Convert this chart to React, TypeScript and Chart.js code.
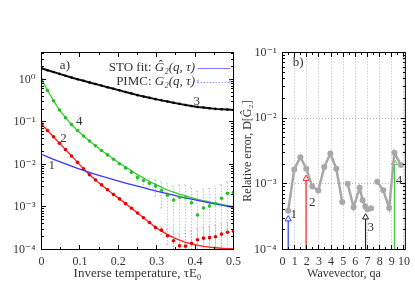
import React, { useEffect, useRef } from 'react';
import { Chart, registerables } from 'chart.js';

Chart.register(...registerables);

const FONT = '"Liberation Serif", "DejaVu Serif", serif';
const TEXT = '#333333';

// ---------- panel a) : correlation function vs inverse temperature ----------
const TAU = [0, 0.0156, 0.0313, 0.0469, 0.0625, 0.0781, 0.0938, 0.1094, 0.125, 0.1406, 0.1563, 0.1719, 0.1875, 0.2031, 0.2188, 0.2344, 0.25, 0.2656, 0.2813, 0.2969, 0.3125, 0.3281, 0.3438, 0.3594, 0.375, 0.3906, 0.4063, 0.4219, 0.4375, 0.4531, 0.4688, 0.4844, 0.5];

// curve 3 (black): PIMC points and STO fit coincide
const CURVE3 = [1.83, 1.65, 1.49, 1.35, 1.22, 1.11, 1.01, 0.928, 0.851, 0.781, 0.716, 0.657, 0.603, 0.553, 0.507, 0.465, 0.427, 0.397, 0.369, 0.344, 0.322, 0.302, 0.283, 0.266, 0.251, 0.237, 0.226, 0.218, 0.21, 0.203, 0.199, 0.195, 0.191];

// curve 4 (green)
const CURVE4_FIT = [1.0, 0.55, 0.316, 0.191, 0.126, 0.0871, 0.0631, 0.0468, 0.0355, 0.0275, 0.0214, 0.017, 0.0135, 0.0107, 0.0087, 0.0071, 0.00575, 0.00479, 0.00398, 0.00339, 0.00288, 0.00251, 0.00224, 0.002, 0.00182, 0.00166, 0.00151, 0.00141, 0.00132, 0.00123, 0.00115, 0.00108, 0.00102];
const CURVE4_PIMC = [1.0, 0.55, 0.316, 0.191, 0.126, 0.0871, 0.0631, 0.0468, 0.0355, 0.0275, 0.0213, 0.0168, 0.0133, 0.0104, 0.0083, 0.0066, 0.0049, 0.0042, 0.0036, 0.0031, 0.00245, 0.0019, 0.00145, 0.0017, 0.00165, 0.00125, 0.00065, 0.00095, 0.00105, 0.0012, 0.0016, 0.0021, 0.0022];
const CURVE4_ERR = [0, 0, 0, 0, 0, 0, 0, 0, 0, 0, 0.0001, 0.00015, 0.0002, 0.0003, 0.0004, 0.0005, 0.0007, 0.0009, 0.0011, 0.0013, 0.0015, 0.0016, 0.0016, 0.0016, 0.0017, 0.0017, 0.0017, 0.0017, 0.0017, 0.0018, 0.0018, 0.0018, 0.0018];

// curve 2 (red)
const CURVE2_FIT = [0.0887, 0.0631, 0.0447, 0.0316, 0.0224, 0.0158, 0.0112, 0.00794, 0.00575, 0.00432, 0.00331, 0.00254, 0.00197, 0.00155, 0.0012, 0.00093, 0.00072, 0.00056, 0.00043, 0.00033, 0.00027, 0.000224, 0.00019, 0.000166, 0.000148, 0.000135, 0.000126, 0.000119, 0.0001135, 0.00011, 0.000107, 0.000105, 0.0001047];
const CURVE2_PIMC = [0.0887, 0.0631, 0.0447, 0.0316, 0.0224, 0.0158, 0.0112, 0.00794, 0.00575, 0.00432, 0.00331, 0.00254, 0.00197, 0.00155, 0.0012, 0.00093, 0.00072, 0.00056, 0.00043, 0.00033, 0.000285, 0.00021, 0.00016, 0.000122, 0.00012, 0.00014, 0.00017, 0.000185, 0.00019, 0.0002, 0.00023, 0.000255, 0.00027];
const CURVE2_ERR = [0, 0, 0, 0, 0, 0, 0, 0, 0, 0, 0, 0, 0, 0, 0, 0, 0.00001, 0.00002, 0.00003, 0.00004, 0.00006, 0.00008, 0.0001, 0.00011, 0.00012, 0.00013, 0.00014, 0.00015, 0.00016, 0.00017, 0.00018, 0.00018, 0.00019];

// curve 1 (blue): only the STO fit is visible
const CURVE1_FIT = [0.01738, 0.01514, 0.01324, 0.01164, 0.01028, 0.00912, 0.00813, 0.00724, 0.0065, 0.00586, 0.0053, 0.00481, 0.00438, 0.004, 0.00366, 0.00337, 0.0031, 0.00284, 0.00261, 0.0024, 0.00221, 0.00205, 0.0019, 0.00176, 0.00164, 0.00153, 0.00143, 0.00134, 0.00125, 0.00117, 0.0011, 0.00104, 0.00098];

const X_TICKS_A = [0, 0.05, 0.1, 0.15, 0.2, 0.25, 0.3, 0.35, 0.4, 0.45, 0.5];
const X_LABELS_A = ['0', '', '0.1', '', '0.2', '', '0.3', '', '0.4', '', '0.5'];
const Y_MAJOR = [1e-4, 1e-3, 1e-2, 1e-1, 1];
const Y_MAJOR_LABELS = ['10⁻⁴', '10⁻³', '10⁻²', '10⁻¹', '10⁰'];
const X_TITLE_A = 'Inverse temperature, τE₀';

const A_LABEL_TEXT = ['1', '2', '3', '4', 'a)'];
const A_LABEL_TAU = [0.027, 0.057, 0.404, 0.098, 0.061];
const A_LABEL_VAL = [0.0092, 0.041, 0.298, 0.1, 2.17];

const LEGEND_PREFIX = ['STO fit: ', 'PIMC: '];
const LEGEND_MATH = ['Ĝ₂(q, τ)', 'G₂(q, τ)'];

// ---------- panel b) : relative error vs wavevector ----------
const QA = [0.47, 0.97, 1.47, 1.96, 2.45, 2.95, 3.44, 3.94, 4.43, 4.92, 5.15, 5.37, 5.86, 6.35, 6.6, 6.82, 7.0, 7.3, 7.55, 7.8, 8.3, 8.78, 9.22, 9.76];
const DREL = [0.00039, 0.00166, 0.00255, 0.0017, 0.00091, 0.00079, 0.0018, 0.0029, 0.0017, 0.00053, null, 0.001, 0.00044, 0.00087, 0.00056, 0.00045, 0.00041, 0.000425, null, 0.00108, 0.0008, 0.00043, 0.00297, 0.00193];

const ARROW_Q = [0.47, 1.94, 6.84, 9.22];
const ARROW_TOP = [0.00029, 0.0012, 0.00031, 0.00208];
const ARROW_COLORS = ['#2a3cff', '#ff2020', '#222222', '#3ccc3c'];

const QA_TICKS = [0, 0.5, 1, 1.5, 2, 2.5, 3, 3.5, 4, 4.5, 5, 5.5, 6, 6.5, 7, 7.5, 8, 8.5, 9, 9.5, 10];
const QA_LABELS = ['0', '', '1', '', '2', '', '3', '', '4', '', '5', '', '6', '', '7', '', '8', '', '9', '', '10'];
const X_TITLE_B = 'Wavevector, qa';
const Y_TITLE_B = 'Relative error, D[Ĝ₂]';

const B_LABEL_TEXT = ['1', '2', '3', '4', 'b)'];
const B_LABEL_Q = [0.92, 2.46, 7.26, 9.59, 1.28];
const B_LABEL_VAL = [0.000343, 0.00051, 0.000212, 0.00113, 0.07];

// ---------- helpers ----------
const pts = (xs: number[], ys: (number | null)[]) => xs.map((x, i) => ({ x, y: ys[i] }));

function logTicks(minExp: number, max: number) {
  const out: { value: number }[] = [];
  for (let e = minExp; e <= 1; e++) {
    for (let m = 1; m <= 9; m++) {
      const v = m * Math.pow(10, e);
      if (v <= max * 1.0001) out.push({ value: v });
    }
  }
  return out;
}
function majorLabel(v: number) {
  const idx = Y_MAJOR.findIndex((m) => Math.abs(Math.log10(v) - Math.log10(m)) < 1e-6);
  return idx >= 0 ? Y_MAJOR_LABELS[idx] : '';
}
const isMajorLog = (v: number) => Math.abs(Math.log10(v) - Math.round(Math.log10(v))) < 1e-6;

const frameTicksPlugin = {
  id: 'frameTicks',
  afterDatasetsDraw(chart: any) {
    const { ctx, chartArea: a } = chart;
    const xs = chart.scales.x;
    const ys = chart.scales.y;
    ctx.save();
    ctx.strokeStyle = '#000';
    ctx.lineWidth = 1;
    ctx.setLineDash([]);
    ctx.beginPath();
    xs.ticks.forEach((t: any) => {
      const p = xs.getPixelForValue(t.value);
      if (p < a.left + 0.5 || p > a.right - 0.5) return;
      const px = Math.floor(p) + 0.5;
      const len = t.label ? 4.5 : 2.5;
      ctx.moveTo(px, a.bottom);
      ctx.lineTo(px, a.bottom - len);
      ctx.moveTo(px, a.top);
      ctx.lineTo(px, a.top + len);
    });
    ys.ticks.forEach((t: any) => {
      const p = ys.getPixelForValue(t.value);
      if (p < a.top + 0.5 || p > a.bottom - 0.5) return;
      const py = Math.floor(p) + 0.5;
      const len = t.label ? 4.5 : 2.5;
      ctx.moveTo(a.left, py);
      ctx.lineTo(a.left + len, py);
      ctx.moveTo(a.right, py);
      ctx.lineTo(a.right - len, py);
    });
    ctx.stroke();
    ctx.strokeRect(a.left, a.top, a.right - a.left, a.bottom - a.top);
    ctx.restore();
  },
};

const errorBarPlugin = {
  id: 'errorBars',
  beforeDatasetsDraw(chart: any) {
    const { ctx, chartArea: a } = chart;
    const xs = chart.scales.x;
    const ys = chart.scales.y;
    ctx.save();
    ctx.beginPath();
    ctx.rect(a.left, a.top, a.right - a.left, a.bottom - a.top);
    ctx.clip();
    chart.data.datasets.forEach((ds: any) => {
      if (!ds.errors) return;
      ctx.strokeStyle = ds.errorColor;
      ctx.lineWidth = 1;
      ctx.setLineDash([1.5, 1.5]);
      ds.data.forEach((p: any, i: number) => {
        const e = ds.errors[i];
        if (!e) return;
        const x = xs.getPixelForValue(p.x);
        const yHi = ys.getPixelForValue(p.y + e);
        const lo = p.y - e;
        const yLo = lo > 0 ? ys.getPixelForValue(lo) : a.bottom + 3;
        ctx.beginPath();
        ctx.moveTo(x, yLo);
        ctx.lineTo(x, yHi);
        ctx.moveTo(x - 1.5, yHi);
        ctx.lineTo(x + 1.5, yHi);
        ctx.moveTo(x - 1.5, yLo);
        ctx.lineTo(x + 1.5, yLo);
        ctx.stroke();
      });
    });
    ctx.restore();
  },
};

function makeLabelPlugin(texts: string[], xv: number[], yv: number[]) {
  return {
    id: 'panelLabels',
    afterDatasetsDraw(chart: any) {
      const { ctx } = chart;
      ctx.save();
      ctx.font = `13px ${FONT}`;
      ctx.fillStyle = TEXT;
      ctx.textAlign = 'center';
      ctx.textBaseline = 'middle';
      texts.forEach((t, i) => {
        ctx.fillText(t, chart.scales.x.getPixelForValue(xv[i]), chart.scales.y.getPixelForValue(yv[i]));
      });
      ctx.restore();
    },
  };
}

const legendPlugin = {
  id: 'stoLegend',
  afterDatasetsDraw(chart: any) {
    const { ctx, chartArea: a } = chart;
    ctx.save();
    ctx.textBaseline = 'middle';
    ctx.textAlign = 'right';
    ctx.fillStyle = TEXT;
    LEGEND_PREFIX.forEach((pre, i) => {
      const y = a.top + 15.5 + i * 13.5;
      const right = a.right - 38.5;
      ctx.font = `italic 13px ${FONT}`;
      const w = ctx.measureText(LEGEND_MATH[i]).width;
      ctx.fillText(LEGEND_MATH[i], right, y);
      ctx.font = `13px ${FONT}`;
      ctx.fillText(pre, right - w, y);
      const x0 = a.right - 36;
      const x1 = a.right - 3;
      ctx.lineWidth = 1.2;
      ctx.beginPath();
      if (i === 0) {
        ctx.strokeStyle = '#7a7aff';
        ctx.setLineDash([]);
        ctx.moveTo(x0, Math.round(y) + 0.5);
        ctx.lineTo(x1, Math.round(y) + 0.5);
        ctx.stroke();
      } else {
        ctx.strokeStyle = '#9a9aff';
        ctx.setLineDash([1.5, 1.5]);
        ctx.moveTo(x0, Math.round(y) + 0.5);
        ctx.lineTo(x1, Math.round(y) + 0.5);
        ctx.stroke();
        ctx.setLineDash([]);
        ctx.beginPath();
        ctx.moveTo(x0 + 0.5, y - 2);
        ctx.lineTo(x0 + 0.5, y + 2);
        ctx.moveTo(x1 - 0.5, y - 2);
        ctx.lineTo(x1 - 0.5, y + 2);
        ctx.stroke();
      }
    });
    ctx.restore();
  },
};

const tickFont = { family: FONT, size: 12 };
const titleFontA = { family: FONT, size: 13 };

function configA(): any {
  return {
    type: 'line',
    data: {
      datasets: [
        { label: '4 PIMC', data: pts(TAU, CURVE4_PIMC), showLine: false, pointRadius: 1.8, pointBackgroundColor: '#22c022', pointBorderWidth: 0, errors: CURVE4_ERR, errorColor: 'rgba(70,205,70,0.55)' },
        { label: '2 PIMC', data: pts(TAU, CURVE2_PIMC), showLine: false, pointRadius: 1.8, pointBackgroundColor: '#e80000', pointBorderWidth: 0, errors: CURVE2_ERR, errorColor: 'rgba(255,90,90,0.5)' },
        { label: '3', data: pts(TAU, CURVE3), borderColor: '#111111', borderWidth: 2, pointRadius: 1.3, pointBackgroundColor: '#000', pointBorderWidth: 0 },
        { label: '1 fit', data: pts(TAU, CURVE1_FIT), borderColor: '#3838ff', borderWidth: 1.3, pointRadius: 0 },
        { label: '4 fit', data: pts(TAU, CURVE4_FIT), borderColor: '#38c838', borderWidth: 1.3, pointRadius: 0 },
        { label: '2 fit', data: pts(TAU, CURVE2_FIT), borderColor: '#ff2020', borderWidth: 1.3, pointRadius: 0 },
      ],
    },
    options: {
      responsive: false,
      animation: false,
      events: [],
      layout: { padding: { left: 0, right: 181.5, top: 52.5, bottom: 9.5 } },
      plugins: { legend: { display: false }, tooltip: { enabled: false } },
      scales: {
        x: {
          type: 'linear',
          min: 0,
          max: 0.5,
          afterBuildTicks: (s: any) => { s.ticks = X_TICKS_A.map((v) => ({ value: v })); },
          afterFit: (s: any) => { s.height = 32; },
          grid: { display: false, drawTicks: false },
          border: { display: false },
          ticks: { autoSkip: false, maxRotation: 0, padding: 5, color: TEXT, font: tickFont, callback: (_v: any, i: number) => X_LABELS_A[i] },
          title: { display: true, text: X_TITLE_A, color: TEXT, font: titleFontA, padding: { top: 0, bottom: 0 } },
        },
        y: {
          type: 'logarithmic',
          min: 1e-4,
          max: 4.3,
          afterBuildTicks: (s: any) => { s.ticks = logTicks(-4, 4.3); },
          afterFit: (s: any) => { s.width = 41.5; },
          grid: { display: false, drawTicks: false },
          border: { display: false },
          ticks: { autoSkip: false, padding: 6, color: TEXT, font: tickFont, callback: (v: any) => majorLabel(Number(v)) },
        },
      },
    },
    plugins: [errorBarPlugin, frameTicksPlugin, makeLabelPlugin(A_LABEL_TEXT, A_LABEL_TAU, A_LABEL_VAL), legendPlugin],
  };
}

function configB(): any {
  const arrows = ARROW_Q.map((q, i) => ({
    label: `arrow ${i + 1}`,
    data: [{ x: q, y: 1e-4 }, { x: q, y: ARROW_TOP[i] }],
    borderColor: ARROW_COLORS[i],
    borderWidth: 1.2,
    pointRadius: [0, 3.5],
    pointStyle: 'triangle',
    pointBackgroundColor: '#ffffff',
    pointBorderColor: ARROW_COLORS[i],
    pointBorderWidth: 1,
  }));
  return {
    type: 'line',
    data: {
      datasets: [
        { label: 'D[G2]', data: pts(QA, DREL), borderColor: '#a8a8a8', borderWidth: 2.5, pointRadius: 3, pointBackgroundColor: '#a8a8a8', pointBorderWidth: 0, spanGaps: false },
        ...arrows,
      ],
    },
    options: {
      responsive: false,
      animation: false,
      events: [],
      layout: { padding: { left: 236, right: 7.5, top: 52.5, bottom: 9.7 } },
      plugins: { legend: { display: false }, tooltip: { enabled: false } },
      scales: {
        x: {
          type: 'linear',
          min: 0,
          max: 10.12,
          afterBuildTicks: (s: any) => { s.ticks = QA_TICKS.map((v) => ({ value: v })); },
          afterFit: (s: any) => { s.height = 31.8; },
          grid: {
            display: true,
            drawOnChartArea: true,
            drawTicks: false,
            lineWidth: 1,
            color: (c: any) => (c.tick && Number.isInteger(c.tick.value) && c.tick.value > 0 ? '#b4b4b4' : 'rgba(0,0,0,0)'),
          },
          border: { display: false, dash: [1, 2] },
          ticks: { autoSkip: false, maxRotation: 0, padding: 5, color: TEXT, font: tickFont, callback: (_v: any, i: number) => QA_LABELS[i] },
          title: { display: true, text: X_TITLE_B, color: TEXT, font: tickFont, padding: { top: 0, bottom: 0 } },
        },
        y: {
          type: 'logarithmic',
          min: 1e-4,
          max: 0.1,
          afterBuildTicks: (s: any) => { s.ticks = logTicks(-4, 0.1); },
          afterFit: (s: any) => { s.width = 46.5; },
          grid: {
            display: true,
            drawOnChartArea: true,
            drawTicks: false,
            lineWidth: 1,
            color: (c: any) => (c.tick && isMajorLog(c.tick.value) && c.tick.value > 1.5e-4 && c.tick.value < 0.09 ? '#b4b4b4' : 'rgba(0,0,0,0)'),
          },
          border: { display: false, dash: [1, 2] },
          ticks: { autoSkip: false, padding: 6, color: TEXT, font: tickFont, callback: (v: any) => majorLabel(Number(v)) },
          title: { display: true, text: Y_TITLE_B, color: TEXT, font: tickFont, padding: { top: 4.8, bottom: 0 } },
        },
      },
    },
    plugins: [frameTicksPlugin, makeLabelPlugin(B_LABEL_TEXT, B_LABEL_Q, B_LABEL_VAL)],
  };
}

export default function App() {
  const refA = useRef<HTMLCanvasElement>(null);
  const refB = useRef<HTMLCanvasElement>(null);
  useEffect(() => {
    const a = new Chart(refA.current as HTMLCanvasElement, configA());
    const b = new Chart(refB.current as HTMLCanvasElement, configB());
    return () => {
      a.destroy();
      b.destroy();
    };
  }, []);
  const cs: React.CSSProperties = { position: 'absolute', left: 0, top: 0, width: 415, height: 291 };
  return (
    <div style={{ position: 'fixed', left: 0, top: 0, width: 415, height: 291, background: '#ffffff' }}>
      <canvas ref={refA} width={415} height={291} style={cs} />
      <canvas ref={refB} width={415} height={291} style={cs} />
    </div>
  );
}
